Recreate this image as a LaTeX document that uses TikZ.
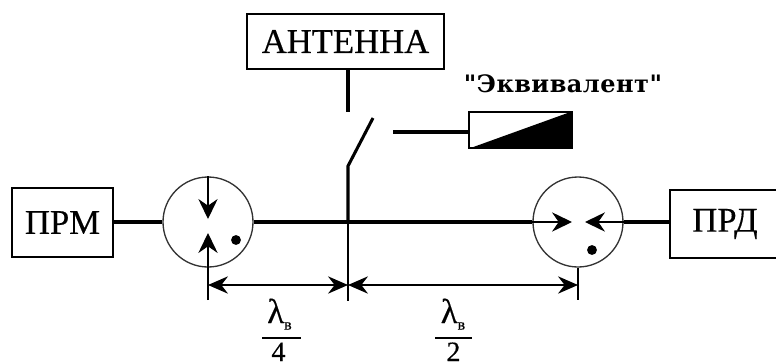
\documentclass[tikz,border=0pt]{standalone}
\usepackage{fontspec}
\setmainfont{Liberation Serif}
\newfontfamily\blockfont[FakeBold=0.4]{Liberation Serif}
\newfontfamily\loadfont[LetterSpace=2]{DejaVu Serif Bold}
\usepackage{tikz}
\usetikzlibrary{arrows.meta}

\tikzset{
    unitbox/.style={draw, line width=1.2pt, inner sep=0pt, font=\fontsize{26}{28}\selectfont\blockfont},
    port/.style={draw=black!80, circle, line width=1pt, minimum size=67.5pt, inner sep=0pt},
    feed/.style={line width=2.3pt},
    flow/.style={line width=1pt, -{Stealth[length=15pt, width=14.5pt, inset=5pt]}},
    span/.style={line width=1pt, {Stealth[length=15pt, width=13pt, inset=5pt]}-{Stealth[length=15pt, width=13pt, inset=5pt]}},
    guide/.style={line width=1pt},
    numer/.style={anchor=base, font=\fontsize{26}{28}\selectfont\blockfont},
    denom/.style={anchor=base, font=\fontsize{21}{23}\selectfont\blockfont},
}
\newcommand{\lamsub}{λ\raisebox{-5pt}{\fontsize{12}{12}\selectfont в}}

\begin{document}
\begin{tikzpicture}[x=0.75pt, y=-0.75pt]
    \useasboundingbox (0,0) rectangle (776,362);
    % blocks
    \node[unitbox, minimum width=147.75pt, minimum height=41.25pt] (ant) at (345.5,41.5) {АНТЕННА\hspace{5pt}};
    \node[unitbox, minimum width=75.75pt, minimum height=51.75pt] (prm) at (62.5,222.5) {ПРМ};
    \node[unitbox, minimum width=82.5pt, minimum height=51pt] (prd) at (725,224) {ПРД};
    \node[port] (cl) at (208,222) {};
    \node[port] (cr) at (578,222) {};
    \node[draw, line width=1.2pt, minimum width=77pt, minimum height=27pt, inner sep=0pt] (load) at (520.5,130) {};
    \fill (load.south west) -- (load.south east) -- (load.north east) -- cycle;
    \node[font=\fontsize{18}{20}\selectfont\loadfont] (loadname) at (563,84) {\symbol{34}Эквивалент\symbol{34}};

    % switch
    \coordinate (jn) at (348,222);
    \coordinate (sw0) at (348,166);
    \coordinate (sw1) at (373,118);
    \coordinate (top) at (348,112);
    \coordinate (stub) at (393,132);
    \draw[feed] (cl -| prm.east) -- (cl);
    \draw[feed] (cl) -- (cr);
    \draw[feed] (cr) -- (cr -| prd.west);
    \draw[feed] (jn) -- (sw0) -- (sw1);
    \draw[feed] (ant.south -| top) -- (top);
    \draw[feed] (stub) -- (stub -| load.west);

    % port arrows
    \coordinate (tl1) at (208,219);
    \coordinate (tl2) at (208,233);
    \coordinate (tr1) at (572,222);
    \coordinate (tr2) at (585,222);
    \coordinate (gl) at (208,300);
    \coordinate (gm) at (348,301);
    \coordinate (gr) at (578,300);
    \draw[flow] (cl.north) -- (tl1);
    \draw[flow] (gl) -- (tl2);
    \draw[flow] (cr.west) -- (tr1);
    \draw[flow] (cr.east) -- (tr2);
    \fill (236,240) circle (3.7pt);
    \fill (592,250) circle (3.7pt);

    % distances
    \draw[guide] (jn) -- (gm);
    \draw[guide] (cr.south) -- (gr);
    \coordinate (dl) at (208,285);
    \coordinate (dm) at (348,285);
    \coordinate (dr) at (578,285);
    \draw[span] (dl) -- (dm);
    \draw[span] (dm) -- (dr);
    \node[numer] (lamq) at (279.5,323) {\lamsub};
    \node[denom] (four) at (278.5,361) {4};
    \coordinate (barq0) at (262,338);
    \coordinate (barq1) at (301,338);
    \draw[guide] (barq0) -- (barq1);
    \node[numer] (lamh) at (453,323) {\lamsub};
    \node[denom] (two) at (453.5,361) {2};
    \coordinate (barh0) at (435,338);
    \coordinate (barh1) at (472,338);
    \draw[guide] (barh0) -- (barh1);
\end{tikzpicture}
\end{document}
